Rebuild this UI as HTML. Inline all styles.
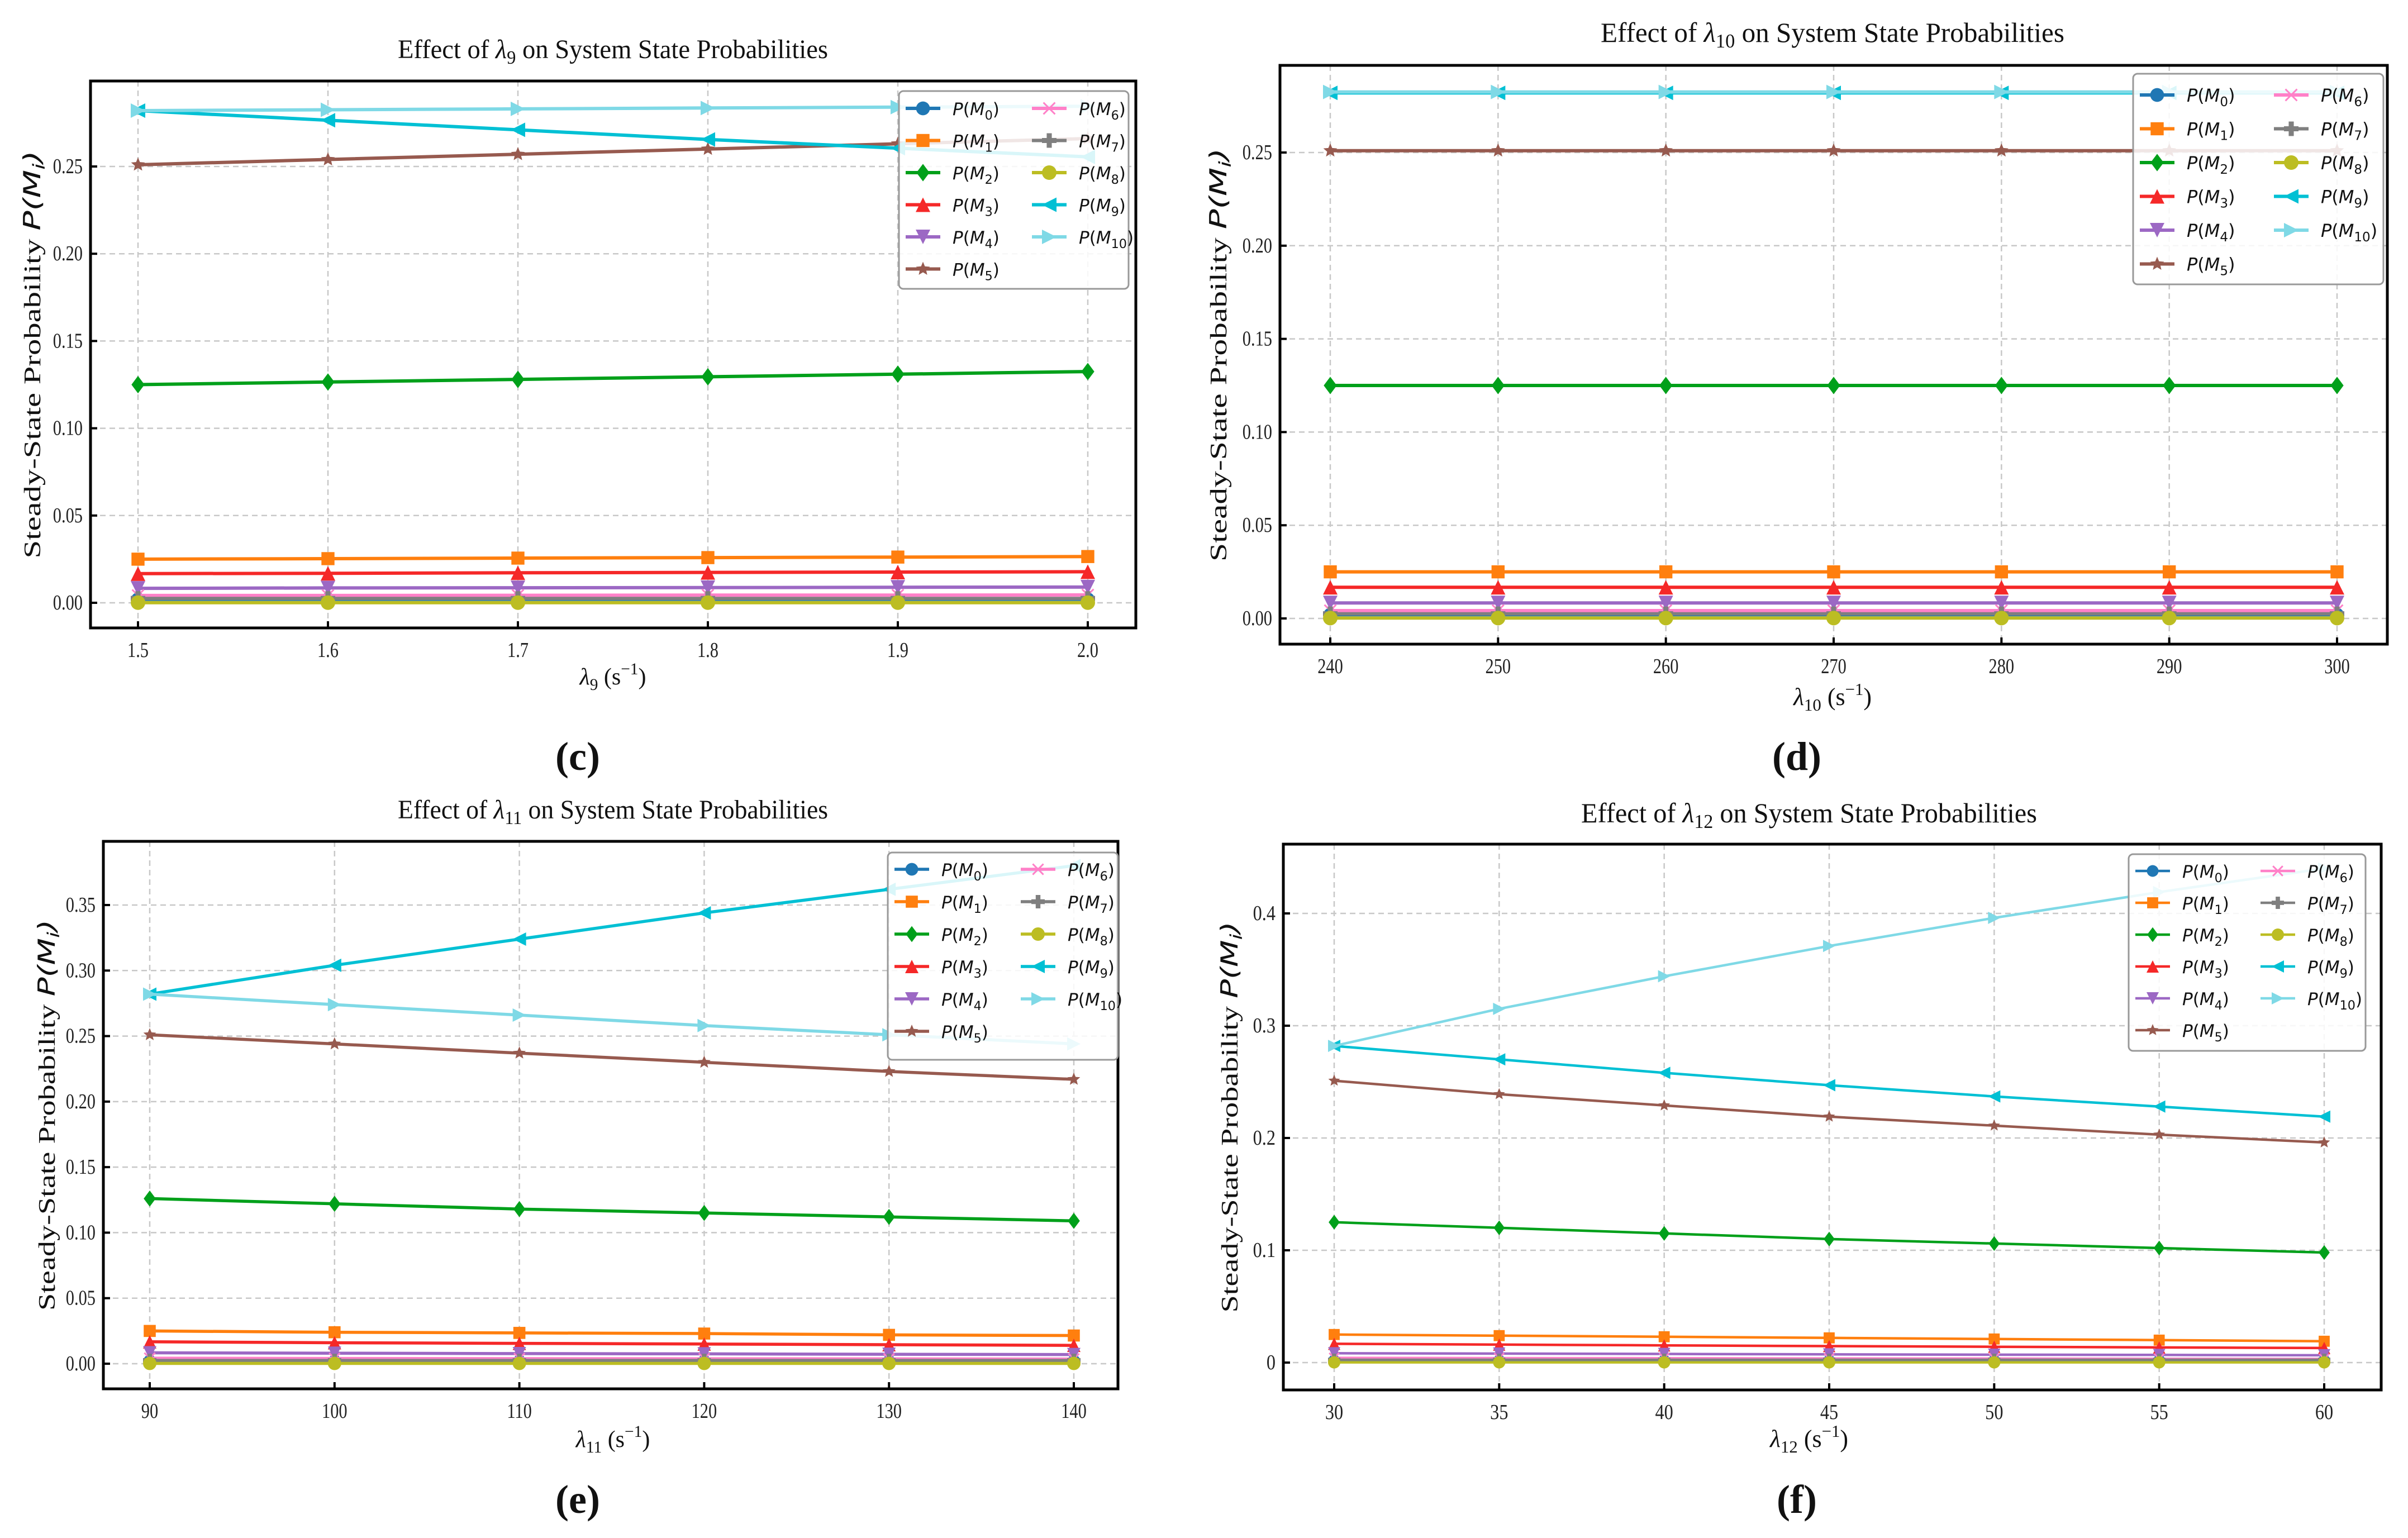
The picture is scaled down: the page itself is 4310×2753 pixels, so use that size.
<!DOCTYPE html>
<html><head><meta charset="utf-8">
<style>
html,body{margin:0;padding:0;background:#fff;}
svg{display:block;}
</style></head>
<body>
<svg id="fig" xmlns="http://www.w3.org/2000/svg" width="4310" height="2753" viewBox="0 0 4310 2753"></svg>
<script>
// ---------- Panel (c) data ----------
const c_x = [1.5, 1.6, 1.7, 1.8, 1.9, 2.0];
const c_xticks = ["1.5","1.6","1.7","1.8","1.9","2.0"];
const c_yticks = ["0.00","0.05","0.10","0.15","0.20","0.25"];
const c_M0 = [0.002,0.002,0.002,0.002,0.002,0.002];
const c_M1 = [0.025,0.0253,0.0256,0.0259,0.0262,0.0265];
const c_M2 = [0.125,0.1265,0.128,0.1295,0.131,0.1325];
const c_M3 = [0.0167,0.0169,0.0172,0.0174,0.0176,0.0178];
const c_M4 = [0.0083,0.0085,0.0086,0.0087,0.0089,0.009];
const c_M5 = [0.251,0.254,0.257,0.260,0.263,0.266];
const c_M6 = [0.0042,0.0042,0.0043,0.0044,0.0044,0.0045];
const c_M7 = [0.0025,0.0025,0.0025,0.0025,0.0025,0.0025];
const c_M8 = [0.0001,0.0001,0.0001,0.0001,0.0001,0.0001];
const c_M9 = [0.282,0.2765,0.271,0.2655,0.2605,0.2555];
const c_M10 = [0.282,0.2825,0.283,0.2835,0.284,0.2845];
// ---------- Panel (d) data ----------
const d_x = [240,250,260,270,280,290,300];
const d_xticks = ["240","250","260","270","280","290","300"];
const d_yticks = ["0.00","0.05","0.10","0.15","0.20","0.25"];
const d_M0 = [0.002,0.002,0.002,0.002,0.002,0.002,0.002];
const d_M1 = [0.025,0.025,0.025,0.025,0.025,0.025,0.025];
const d_M2 = [0.125,0.125,0.125,0.125,0.125,0.125,0.125];
const d_M3 = [0.0167,0.0167,0.0167,0.0167,0.0167,0.0167,0.0167];
const d_M4 = [0.0083,0.0083,0.0083,0.0083,0.0083,0.0083,0.0083];
const d_M5 = [0.251,0.251,0.251,0.251,0.251,0.251,0.251];
const d_M6 = [0.0042,0.0042,0.0042,0.0042,0.0042,0.0042,0.0042];
const d_M7 = [0.0025,0.0025,0.0025,0.0025,0.0025,0.0025,0.0025];
const d_M8 = [0.0002,0.0002,0.0002,0.0002,0.0002,0.0002,0.0002];
const d_M9 = [0.282,0.282,0.282,0.282,0.282,0.282,0.282];
const d_M10 = [0.2825,0.2825,0.2825,0.2825,0.2825,0.2825,0.2825];
// ---------- Panel (e) data ----------
const e_x = [90,100,110,120,130,140];
const e_xticks = ["90","100","110","120","130","140"];
const e_yticks = ["0.00","0.05","0.10","0.15","0.20","0.25","0.30","0.35"];
const e_M0 = [0.002,0.002,0.002,0.002,0.002,0.002];
const e_M1 = [0.025,0.024,0.0235,0.023,0.022,0.0215];
const e_M2 = [0.126,0.122,0.118,0.115,0.112,0.109];
const e_M3 = [0.0167,0.016,0.0155,0.015,0.0145,0.014];
const e_M4 = [0.0083,0.008,0.0077,0.0075,0.0072,0.007];
const e_M5 = [0.251,0.244,0.237,0.230,0.223,0.217];
const e_M6 = [0.0042,0.004,0.0039,0.0038,0.0037,0.0036];
const e_M7 = [0.0025,0.0025,0.0025,0.0025,0.0025,0.0025];
const e_M8 = [0.0002,0.0002,0.0002,0.0002,0.0002,0.0002];
const e_M9 = [0.282,0.304,0.324,0.344,0.362,0.380];
const e_M10 = [0.282,0.274,0.266,0.258,0.251,0.244];
// ---------- Panel (f) data ----------
const f_x = [30,35,40,45,50,55,60];
const f_xticks = ["30","35","40","45","50","55","60"];
const f_yticks = ["0","0.1","0.2","0.3","0.4"];
const f_M0 = [0.002,0.002,0.002,0.002,0.002,0.002,0.002];
const f_M1 = [0.025,0.024,0.023,0.022,0.021,0.020,0.019];
const f_M2 = [0.125,0.120,0.115,0.110,0.106,0.102,0.098];
const f_M3 = [0.0167,0.016,0.0153,0.0147,0.0141,0.0135,0.013];
const f_M4 = [0.0083,0.008,0.0077,0.0073,0.007,0.0068,0.0065];
const f_M5 = [0.251,0.239,0.229,0.219,0.211,0.203,0.196];
const f_M6 = [0.0042,0.004,0.0039,0.0037,0.0036,0.0034,0.0033];
const f_M7 = [0.0025,0.0025,0.0025,0.0025,0.0025,0.0025,0.0025];
const f_M8 = [0.0002,0.0002,0.0002,0.0002,0.0002,0.0002,0.0002];
const f_M9 = [0.282,0.270,0.258,0.247,0.237,0.228,0.219];
const f_M10 = [0.282,0.315,0.344,0.371,0.396,0.419,0.440];

const COLORS = ["#1f77b4","#ff7f0e","#00a01a","#f52828","#9c68c4","#975a4f","#ff80c8","#7f7f7f","#bcbd22","#00c0d4","#7fd9e6"];
const SHAPES = ["o","s","D","^","v","*","x","P","8","<",">"];

const NS = "http://www.w3.org/2000/svg";
const svg = document.getElementById("fig");
function mk(tag, attrs, parent){
  const e = document.createElementNS(NS, tag);
  for (const k in attrs) e.setAttribute(k, attrs[k]);
  (parent||svg).appendChild(e);
  return e;
}
function marker(g, shape, x, y, s, color){
  const h = s/2;
  let el;
  if (shape==="o"){ el = mk("circle",{cx:x,cy:y,r:h*0.95,fill:color},g); }
  else if (shape==="8"){ el = mk("circle",{cx:x,cy:y,r:h,fill:color},g); }
  else if (shape==="s"){ el = mk("rect",{x:x-h*0.9,y:y-h*0.9,width:s*0.9,height:s*0.9,fill:color},g); }
  else if (shape==="D"){ el = mk("polygon",{points:`${x},${y-h*1.2} ${x+h*0.9},${y} ${x},${y+h*1.2} ${x-h*0.9},${y}`,fill:color},g); }
  else if (shape==="^"){ el = mk("polygon",{points:`${x},${y-h} ${x+h},${y+h} ${x-h},${y+h}`,fill:color},g); }
  else if (shape==="v"){ el = mk("polygon",{points:`${x},${y+h} ${x+h},${y-h} ${x-h},${y-h}`,fill:color},g); }
  else if (shape==="<"){ el = mk("polygon",{points:`${x-h},${y} ${x+h},${y-h} ${x+h},${y+h}`,fill:color},g); }
  else if (shape===">"){ el = mk("polygon",{points:`${x+h},${y} ${x-h},${y-h} ${x-h},${y+h}`,fill:color},g); }
  else if (shape==="*"){
    let pts=[];
    for(let i=0;i<10;i++){const r=i%2?h*0.45:h; const a=-Math.PI/2+i*Math.PI/5; pts.push((x+r*Math.cos(a)).toFixed(1)+","+(y+r*Math.sin(a)).toFixed(1));}
    el = mk("polygon",{points:pts.join(" "),fill:color},g);
  }
  else if (shape==="x"){ el = mk("path",{d:`M${x-h*0.8},${y-h*0.8}L${x+h*0.8},${y+h*0.8}M${x-h*0.8},${y+h*0.8}L${x+h*0.8},${y-h*0.8}`,stroke:color,"stroke-width":3,fill:"none"},g); }
  else if (shape==="P"){ el = mk("path",{d:`M${x-h},${y}L${x+h},${y}M${x},${y-h}L${x},${y+h}`,stroke:color,"stroke-width":s*0.35,fill:"none"},g); }
  return el;
}

function drawPanel(p){
  const g = mk("g",{});
  
  
  const X = v => p.x0px + (v - p.x0v) * (p.x1px - p.x0px) / (p.x1v - p.x0v);
  const Y = v => p.y0px + (v - p.y0v) * (p.y1px - p.y0px) / (p.y1v - p.y0v);
  const grid = mk("g",{},g);
  
  
  p.xs.forEach(v=>mk("line",{x1:X(v),x2:X(v),y1:p.T,y2:p.B,stroke:"#c8c8c8","stroke-width":2.5,"stroke-dasharray":"10,7"},grid));
  p.ytickLabels.forEach(l=>{const v=parseFloat(l); mk("line",{x1:p.L,x2:p.R,y1:Y(v),y2:Y(v),stroke:"#c8c8c8","stroke-width":2.5,"stroke-dasharray":"10,7"},grid);});
  const sg = mk("g",{},g);
  
  
  p.series.forEach((vals,i)=>{
    const s = mk("g",{},sg);
    
    
    const pts = vals.map((v,j)=>X(p.xs[j]).toFixed(1)+","+Y(v).toFixed(1)).join(" ");
    mk("polyline",{points:pts,fill:"none",stroke:COLORS[i],"stroke-width":p.lw,"stroke-linejoin":"round"},s);
    vals.forEach((v,j)=>{
      const m = marker(s, SHAPES[i], X(p.xs[j]), Y(v), p.ms, COLORS[i]);
      
      
    });
  });
  const fr = mk("rect",{x:p.L,y:p.T,width:p.R-p.L,height:p.B-p.T,fill:"none",stroke:"#000","stroke-width":5},g);
  
  
  const tf = `font-family:'Liberation Serif',serif;font-size:${p.tickFs}px;fill:#222`;
  p.xs.forEach((v,i)=>{
    mk("line",{x1:X(v),x2:X(v),y1:p.B,y2:p.B-12,stroke:"#000","stroke-width":4},g);
    const t = mk("text",{x:X(v),y:p.B+52,"text-anchor":"middle",style:tf},g);
    
    
    t.textContent = p.xtickLabels[i];
    t.setAttribute("transform",`translate(${X(v)},0) scale(${p.cond},1) translate(${-X(v)},0)`);
  });
  p.ytickLabels.forEach(l=>{
    const v=parseFloat(l);
    mk("line",{x1:p.L,x2:p.L+12,y1:Y(v),y2:Y(v),stroke:"#000","stroke-width":4},g);
    const xr = p.L-14;
    const t = mk("text",{x:xr,y:Y(v)+12,"text-anchor":"end",style:tf},g);
    
    
    t.textContent = l;
    t.setAttribute("transform",`translate(${xr},0) scale(${p.cond},1) translate(${-xr},0)`);
  });
  const tt = mk("text",{x:p.titleX,y:p.titleY,"text-anchor":"middle",textLength:p.titleW,lengthAdjust:"spacingAndGlyphs",style:`font-family:'Liberation Serif',serif;font-size:${p.titleFs}px;fill:#111`},g);
  
  
  tt.innerHTML = `Effect of <tspan font-style="italic">λ</tspan><tspan font-size="${p.titleFs*0.7}" dy="10">${p.sub}</tspan><tspan dy="-10"> on System State Probabilities</tspan>`;
  const yl = mk("text",{x:0,y:0,"text-anchor":"middle",textLength:p.ylW,lengthAdjust:"spacingAndGlyphs",transform:`translate(${p.ylX},${(p.T+p.B)/2}) rotate(-90)`,style:`font-family:'Liberation Serif',serif;font-size:${p.ylFs}px;fill:#111`},g);
  
  
  yl.innerHTML = `Steady-State Probability <tspan font-family="DejaVu Sans" font-style="italic">P(M</tspan><tspan font-family="DejaVu Sans" font-style="italic" font-size="${p.ylFs*0.7}" dy="8">i</tspan><tspan font-family="DejaVu Sans" font-style="italic" dy="-8">)</tspan>`;
  const xl = mk("text",{x:p.xlX,y:p.xlY,"text-anchor":"middle",style:`font-family:'Liberation Serif',serif;font-size:${p.xlFs}px;fill:#111`},g);
  
  
  xl.innerHTML = `<tspan font-style="italic">λ</tspan><tspan font-size="${p.xlFs*0.7}" dy="10">${p.sub}</tspan><tspan dy="-10"> (s</tspan><tspan font-size="${p.xlFs*0.7}" dy="-18">−1</tspan><tspan dy="18">)</tspan>`;
  const pl = mk("text",{x:p.letterX,y:p.letterY,"text-anchor":"middle",style:"font-family:'Liberation Serif',serif;font-size:72px;font-weight:bold;fill:#111"},g);
  
  
  pl.textContent = p.letter;
  const lg = mk("g",{},g);
  
  
  mk("rect",{x:p.lgX,y:p.lgY,width:p.lgW,height:p.lgH,rx:8,fill:"#fff","fill-opacity":0.85,stroke:"#999","stroke-width":3},lg);
  for(let i=0;i<11;i++){
    const col = i<6?0:1, row = i<6?i:i-6;
    const cy = p.lgY + p.lgRow0 + row*p.lgRowH;
    const hx = p.lgX + 12 + col*p.lgColW;
    const e = mk("g",{},lg);
    
    
    mk("line",{x1:hx,x2:hx+62,y1:cy,y2:cy,stroke:COLORS[i],"stroke-width":p.lw},e);
    marker(e, SHAPES[i], hx+31, cy, p.ms, COLORS[i]);
    const t = mk("text",{x:hx+84,y:cy+12,style:`font-family:'DejaVu Sans',sans-serif;font-size:${p.lgFs}px;fill:#111`},e);
    t.innerHTML = `<tspan font-style="italic">P</tspan>(<tspan font-style="italic">M</tspan><tspan font-size="${p.lgFs*0.72}" dy="8">${i}</tspan><tspan dy="-8">)</tspan>`;
  }
}

drawPanel({name:"panel-c",letter:"(c)",sub:"9",
  L:162,R:2033,T:145,B:1124,
  x0v:1.5,x1v:2.0,x0px:247,x1px:1947, y0v:0,y1v:0.25,y0px:1079,y1px:298,
  xs:c_x, xtickLabels:c_xticks, ytickLabels:c_yticks,
  series:[c_M0,c_M1,c_M2,c_M3,c_M4,c_M5,c_M6,c_M7,c_M8,c_M9,c_M10],
  lw:6, ms:26, tickFs:38, cond:0.8,
  titleX:1097,titleY:104,titleW:770,titleFs:48,
  ylX:72,ylW:730,ylFs:42, xlX:1097,xlY:1225,xlFs:42,
  letterX:1034,letterY:1378,
  lgX:1609,lgY:163,lgW:411,lgH:354,lgRow0:31,lgRowH:57.5,lgColW:226,lgFs:31});

drawPanel({name:"panel-d",letter:"(d)",sub:"10",
  L:2291,R:4273,T:117,B:1153,
  x0v:240,x1v:300,x0px:2381,x1px:4183, y0v:0,y1v:0.25,y0px:1107,y1px:273,
  xs:d_x, xtickLabels:d_xticks, ytickLabels:d_yticks,
  series:[d_M0,d_M1,d_M2,d_M3,d_M4,d_M5,d_M6,d_M7,d_M8,d_M9,d_M10],
  lw:6, ms:26, tickFs:38, cond:0.8,
  titleX:3280,titleY:75,titleW:830,titleFs:50,
  ylX:2195,ylW:740,ylFs:42, xlX:3280,xlY:1262,xlFs:44,
  letterX:3216,letterY:1378,
  lgX:3818,lgY:132,lgW:448,lgH:377,lgRow0:38,lgRowH:60.5,lgColW:240,lgFs:32});

drawPanel({name:"panel-e",letter:"(e)",sub:"11",
  L:185,R:2001,T:1506,B:2486,
  x0v:90,x1v:140,x0px:268,x1px:1922, y0v:0,y1v:0.35,y0px:2441,y1px:1620,
  xs:e_x, xtickLabels:e_xticks, ytickLabels:e_yticks,
  series:[e_M0,e_M1,e_M2,e_M3,e_M4,e_M5,e_M6,e_M7,e_M8,e_M9,e_M10],
  lw:5.5, ms:24, tickFs:38, cond:0.8,
  titleX:1097,titleY:1465,titleW:770,titleFs:48,
  ylX:98,ylW:700,ylFs:42, xlX:1097,xlY:2590,xlFs:42,
  letterX:1034,letterY:2708,
  lgX:1589,lgY:1526,lgW:412,lgH:371,lgRow0:30,lgRowH:58,lgColW:226,lgFs:31});

drawPanel({name:"panel-f",letter:"(f)",sub:"12",
  L:2297,R:4262,T:1511,B:2488,
  x0v:30,x1v:60,x0px:2388,x1px:4160, y0v:0,y1v:0.4,y0px:2439,y1px:1635,
  xs:f_x, xtickLabels:f_xticks, ytickLabels:f_yticks,
  series:[f_M0,f_M1,f_M2,f_M3,f_M4,f_M5,f_M6,f_M7,f_M8,f_M9,f_M10],
  lw:4.5, ms:22, tickFs:38, cond:0.85,
  titleX:3238,titleY:1472,titleW:816,titleFs:50,
  ylX:2215,ylW:700,ylFs:42, xlX:3238,xlY:2590,xlFs:44,
  letterX:3216,letterY:2708,
  lgX:3810,lgY:1529,lgW:424,lgH:352,lgRow0:30,lgRowH:57,lgColW:224,lgFs:31});
</script>
</body></html>
